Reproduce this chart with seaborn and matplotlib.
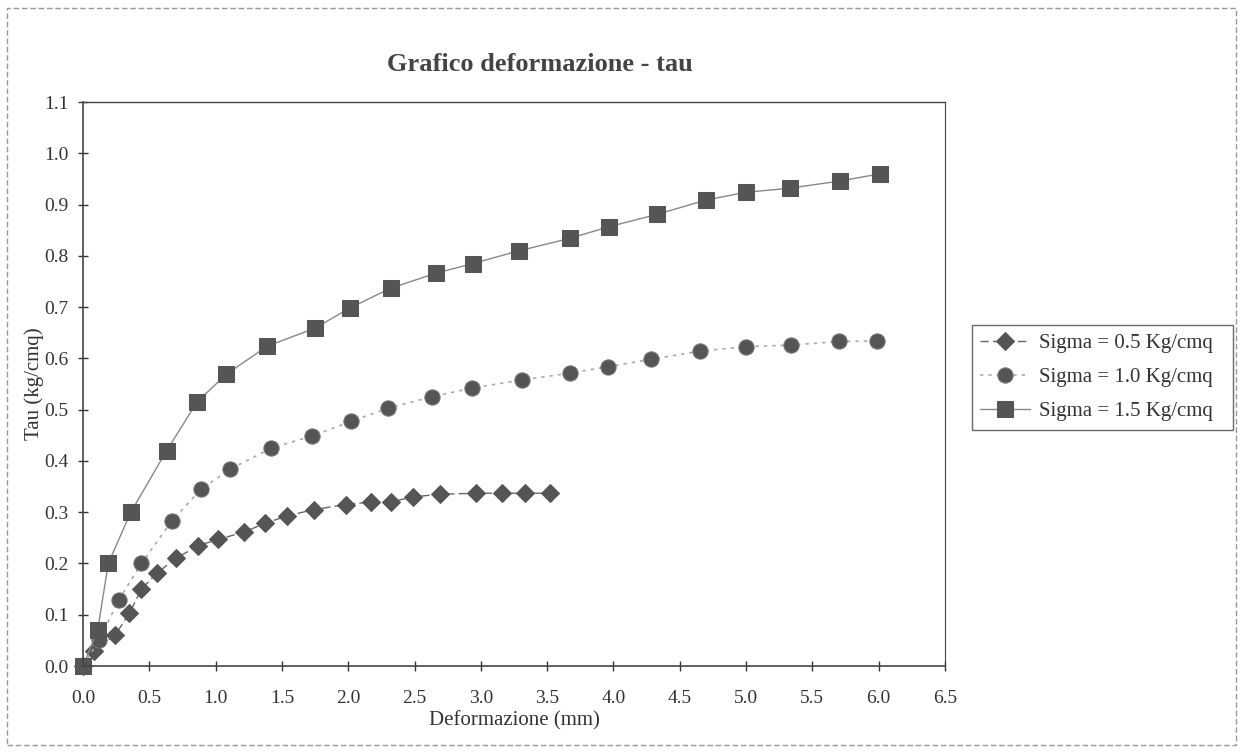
import pandas as pd
import seaborn as sns
import matplotlib.pyplot as plt
from matplotlib.patches import Rectangle


# Data
def_05 = [0.0, 0.08, 0.24, 0.35, 0.44, 0.56, 0.70, 0.87, 1.02, 1.21, 1.37, 1.54, 1.74,
          1.98, 2.17, 2.32, 2.49, 2.69, 2.96, 3.16, 3.33, 3.52]
tau_05 = [0.0, 0.03, 0.06, 0.103, 0.15, 0.182, 0.21, 0.235, 0.247, 0.261, 0.278, 0.293, 0.305,
          0.315, 0.32, 0.32, 0.33, 0.335, 0.337, 0.337, 0.337, 0.337]

def_10 = [0.0, 0.12, 0.27, 0.44, 0.67, 0.89, 1.11, 1.42, 1.73, 2.02, 2.30, 2.63, 2.93,
          3.31, 3.67, 3.96, 4.28, 4.65, 5.00, 5.34, 5.70, 5.99]
tau_10 = [0.0, 0.05, 0.129, 0.20, 0.283, 0.345, 0.384, 0.425, 0.449, 0.477, 0.503, 0.525, 0.542,
          0.558, 0.571, 0.584, 0.598, 0.614, 0.623, 0.626, 0.633, 0.634]

def_15 = [0.0, 0.11, 0.19, 0.36, 0.63, 0.86, 1.08, 1.39, 1.75, 2.01, 2.32, 2.66, 2.94,
          3.29, 3.67, 3.97, 4.33, 4.70, 5.00, 5.33, 5.71, 6.01]
tau_15 = [0.0, 0.07, 0.20, 0.30, 0.42, 0.515, 0.569, 0.624, 0.659, 0.698, 0.737, 0.766, 0.785,
          0.81, 0.834, 0.857, 0.881, 0.909, 0.924, 0.932, 0.946, 0.96]

labels = ["Sigma = 0.5 Kg/cmq", "Sigma = 1.0 Kg/cmq", "Sigma = 1.5 Kg/cmq"]

sns.set_style("white")
plt.rcParams["font.family"] = ["Liberation Serif", "DejaVu Serif"]

fig = plt.figure(figsize=(12.4, 7.53), dpi=100)
ax = fig.add_axes([0.067, 0.1155, 0.695, 0.749])

mark = "#555555"
sns.lineplot(x=def_05, y=tau_05, ax=ax, sort=False, color="#666666", linestyle=(0, (6, 3)),
             linewidth=1, marker="D", markersize=9, markerfacecolor=mark,
             markeredgecolor=mark, label=labels[0], clip_on=False)
sns.lineplot(x=def_10, y=tau_10, ax=ax, sort=False, color="#aaaaaa", linestyle=(0, (2, 3)),
             linewidth=1.2, marker="o", markersize=11, markerfacecolor=mark,
             markeredgecolor="#777777", label=labels[1], clip_on=False)
sns.lineplot(x=def_15, y=tau_15, ax=ax, sort=False, color="#888888", linestyle="-",
             linewidth=1, marker="s", markersize=12, markerfacecolor=mark,
             markeredgecolor=mark, label=labels[2], clip_on=False)

ax.set_xlim(0, 6.5)
ax.set_ylim(0, 1.1)
ax.set_xticks([i * 0.5 for i in range(14)])
ax.set_yticks([i * 0.1 for i in range(12)])
ax.set_xticklabels([f"{i * 0.5:.1f}" for i in range(14)])
ax.set_yticklabels([f"{i * 0.1:.1f}" for i in range(12)])
ax.tick_params(direction="inout", length=7, width=1, labelsize=14, colors="#333333",
               bottom=True, left=True)
ax.tick_params(axis="x", pad=14)
ax.tick_params(axis="y", pad=7)
for s in ax.spines.values():
    s.set_color("#444444")
    s.set_linewidth(1.2)
ax.spines["top"].set_linewidth(1.0)
ax.spines["right"].set_linewidth(0.8)
ax.set_xlabel("Deformazione (mm)", fontsize=15, color="#333333", labelpad=3)
ax.set_ylabel("Tau (kg/cmq)", fontsize=15, color="#333333", labelpad=0)

fig.text(0.4355, 0.915, "Grafico deformazione - tau", ha="center", va="center",
         fontsize=19, fontweight="bold", color="#444444")

leg = ax.legend(loc="center left", bbox_to_anchor=(0.784, 0.426, 0.21, 0.146),
                bbox_transform=fig.transFigure, mode="expand", fontsize=15, frameon=True,
                fancybox=False, edgecolor="#444444", handlelength=2.4,
                borderaxespad=0, labelspacing=0.7, borderpad=0.4, handletextpad=0.4)
leg.get_frame().set_linewidth(1)
for t in leg.get_texts():
    t.set_color("#333333")

fig.patches.append(Rectangle((0.006, 0.011), 0.991, 0.978, transform=fig.transFigure,
                             fill=False, edgecolor="#999999", linewidth=1,
                             linestyle=(0, (4, 2))))

plt.savefig("out.png", dpi=100)
plt.close()
